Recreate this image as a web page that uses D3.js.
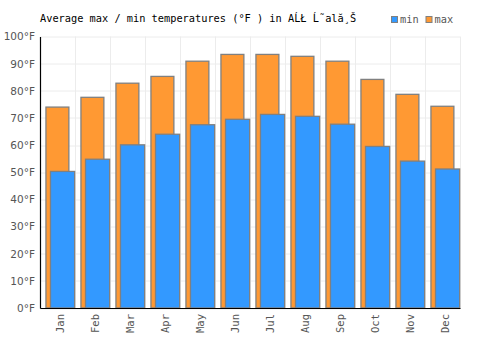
<!DOCTYPE html>
<html>
<head>
<meta charset="utf-8">
<script src="https://cdn.jsdelivr.net/npm/d3@7"></script>
<style>
  body { margin: 0; background: #fff; }
  svg { display: block; }
</style>
</head>
<body>
<div id="chart"></div>
<script>
// ---- DATA ----
const months = ['Jan', 'Feb', 'Mar', 'Apr', 'May', 'Jun', 'Jul', 'Aug', 'Sep', 'Oct', 'Nov', 'Dec'];
const maxTemps = [74, 77.6, 82.8, 85.3, 90.9, 93.4, 93.4, 92.7, 90.9, 84.2, 78.7, 74.3];
const minTemps = [50.3, 54.8, 60.1, 64.0, 67.5, 69.5, 71.3, 70.6, 67.7, 59.5, 54.1, 51.2];
const yTicks = [0, 10, 20, 30, 40, 50, 60, 70, 80, 90, 100];

const W = 500, H = 350;
const margin = { top: 36.5, right: 40, bottom: 42, left: 40 };
const w = W - margin.left - margin.right;
const h = H - margin.top - margin.bottom;

const svg = d3.select('#chart').append('svg')
  .attr('width', W).attr('height', H);

// ---- TITLE ----
svg.append('text')
  .attr('x', 40).attr('y', 22)
  .style('font-family', 'DejaVu Sans Mono, monospace')
  .style('font-size', '10.3px')
  .style('fill', '#000')
  .text('Average max / min temperatures (°F ) in AĹŁ Ĺ˜ală¸Š');

// ---- LEGEND ----
const legend = [{ key: 'min', color: '#3399ff', x: 391 }, { key: 'max', color: '#ff9933', x: 425.5 }];
legend.forEach(l => {
  svg.append('rect')
    .attr('x', l.x + 0.5).attr('y', 16.5).attr('width', 6).attr('height', 6)
    .attr('fill', l.color).attr('stroke', '#808080').attr('stroke-width', 1);
  svg.append('text')
    .attr('x', l.x + 9).attr('y', 23)
    .style('font-family', 'DejaVu Sans Mono, monospace')
    .style('font-size', '10.3px')
    .style('fill', '#555')
    .text(l.key);
});

const g = svg.append('g')
  .attr('transform', `translate(${margin.left}, ${margin.top})`);

const xScale = d3.scaleBand().domain(months).range([0, w]);
const yScale = d3.scaleLinear().domain([0, 100]).range([h, 0]);
const bw = xScale.bandwidth();

// ---- GRID LINES ----
g.append('g')
  .selectAll('line').data(yTicks).join('line')
  .attr('x1', 0).attr('x2', w)
  .attr('y1', d => Math.round(yScale(d)) + 0.5)
  .attr('y2', d => Math.round(yScale(d)) + 0.5)
  .attr('stroke', '#ececec').attr('stroke-width', 1);

g.append('g')
  .selectAll('line').data(months.slice(1).concat(['end'])).join('line')
  .attr('x1', (d, i) => Math.round((i + 1) * bw) + 0.5)
  .attr('x2', (d, i) => Math.round((i + 1) * bw) + 0.5)
  .attr('y1', 0).attr('y2', h)
  .attr('stroke', '#ececec').attr('stroke-width', 1);

// ---- MAX BARS ----
g.selectAll('.bar-max').data(months).join('rect')
  .attr('class', 'bar-max')
  .attr('x', d => xScale(d) + bw * 0.17)
  .attr('y', (d, i) => yScale(maxTemps[i]))
  .attr('width', bw * 0.655)
  .attr('height', (d, i) => h - yScale(maxTemps[i]))
  .attr('fill', '#ff9933')
  .attr('stroke', '#808080')
  .attr('stroke-width', 1.3);

// ---- MIN BARS ----
g.selectAll('.bar-min').data(months).join('rect')
  .attr('class', 'bar-min')
  .attr('x', d => xScale(d) + bw * 0.3)
  .attr('y', (d, i) => yScale(minTemps[i]))
  .attr('width', bw * 0.69)
  .attr('height', (d, i) => h - yScale(minTemps[i]))
  .attr('fill', '#3399ff')
  .attr('stroke', '#808080')
  .attr('stroke-width', 1.3);

// ---- Y AXIS ----
g.append('g')
  .call(d3.axisLeft(yScale).tickValues(yTicks).tickSize(0).tickPadding(5)
    .tickFormat(d => d + '°F'))
  .call(a => a.select('.domain').attr('stroke', '#000').attr('stroke-width', 1.2))
  .call(a => a.selectAll('text')
    .style('font-family', 'DejaVu Sans, sans-serif')
    .style('font-size', '10.5px')
    .style('fill', '#555'));

// ---- X AXIS ----
g.append('g')
  .attr('transform', `translate(0, ${h})`)
  .call(d3.axisBottom(xScale).tickSize(0).tickPadding(6))
  .call(a => a.select('.domain').attr('stroke', '#000').attr('stroke-width', 1.2))
  .call(a => a.selectAll('text')
    .attr('transform', 'rotate(-90)')
    .attr('text-anchor', 'end')
    .attr('x', -6)
    .attr('y', 3)
    .attr('dy', '0.35em')
    .style('font-family', 'DejaVu Sans Mono, monospace')
    .style('font-size', '10.5px')
    .style('fill', '#555'));
</script>
</body>
</html>
